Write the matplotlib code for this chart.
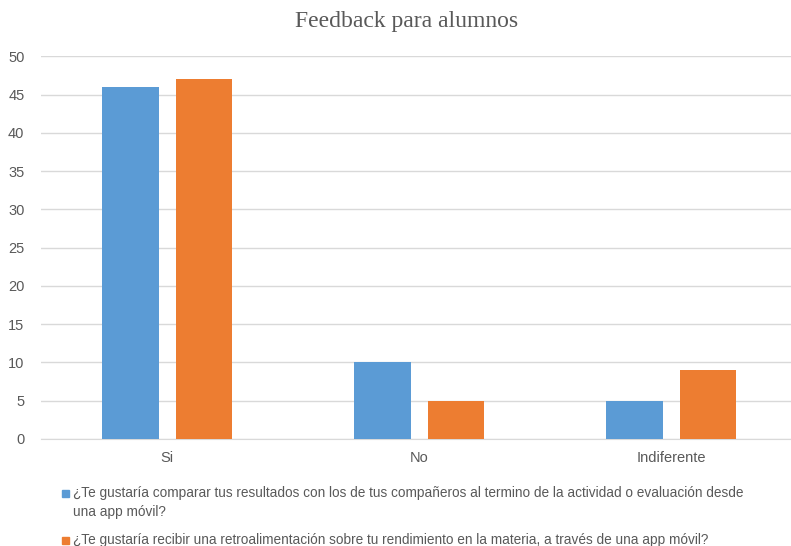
import matplotlib
matplotlib.use('Agg')
import matplotlib.pyplot as plt
import numpy as np
from matplotlib.patches import Rectangle

categories = ['Si', 'No', 'Indiferente']
serie1 = [46, 10, 5]
serie2 = [47, 5, 9]
labels = ['¿Te gustaría comparar tus resultados con los de tus compañeros al termino de la actividad o evaluación desde\nuna app móvil?',
          '¿Te gustaría recibir una retroalimentación sobre tu rendimiento en la materia, a través de una app móvil?']
colors = ['#5B9BD5', '#ED7D31']

plt.rcParams['font.family'] = ['Liberation Sans Narrow', 'Liberation Sans', 'DejaVu Sans']

fig = plt.figure(figsize=(7.91, 5.46), dpi=100)
ax = fig.add_axes([0.052, 0.196, 0.956, 0.701])

x = np.arange(len(categories))
w = 0.224
off = 0.146
ax.bar(x - off, serie1, w, color=colors[0], zorder=3)
ax.bar(x + off, serie2, w, color=colors[1], zorder=3)

ax.set_xlim(-0.5, 2.5)
ax.set_ylim(0, 50)
ax.set_yticks(range(0, 51, 5))
ax.set_xticks(x)
ax.set_xticklabels(categories)
ax.yaxis.grid(True, color='#D9D9D9', linewidth=1, zorder=0)
for s in ['top', 'right', 'left']:
    ax.spines[s].set_visible(False)
ax.spines['bottom'].set_color('#D9D9D9')
ax.tick_params(axis='both', length=0, labelsize=10.5, labelcolor='#595959')
ax.tick_params(axis='x', pad=9)
ax.tick_params(axis='y', pad=12)

fig.text(407 / 791, 1 - 22 / 546, 'Feedback para alumnos', ha='center', va='center',
         fontsize=17, color='#595959', family='Liberation Serif')

ys = [1 - 493 / 546, 1 - 540 / 546]
for i, (lab, c) in enumerate(zip(labels, colors)):
    fig.patches.append(Rectangle((62 / 791, ys[i] - 0.008), 7 / 791, 7 / 546,
                                 transform=fig.transFigure, color=c))
    fig.text(73 / 791, ys[i] + 0.012, lab, ha='left', va='top', fontsize=9.8,
             color='#595959', linespacing=1.45)

fig.savefig('out.png', dpi=100)
